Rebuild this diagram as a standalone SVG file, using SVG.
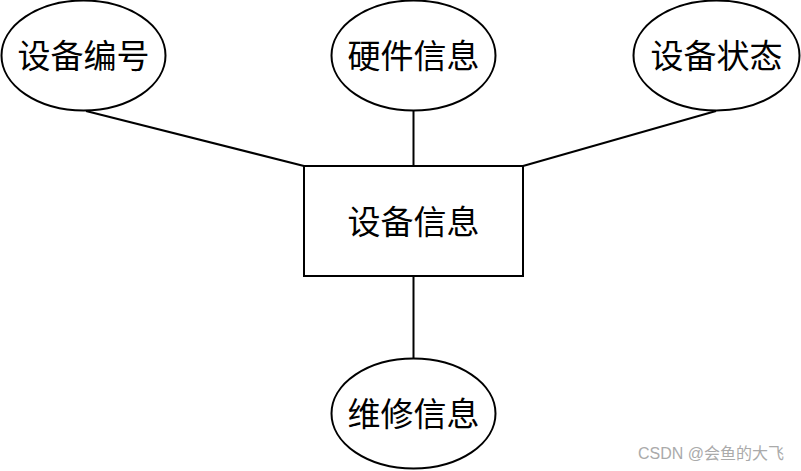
<svg xmlns="http://www.w3.org/2000/svg" width="801" height="471" viewBox="0 0 801 471">
<style>
.shape{fill:#fff;stroke:#000;stroke-width:2}
.lbl{font-family:"Noto Sans CJK SC","Noto Sans",sans-serif;font-size:33px;fill:#000;text-anchor:middle;dominant-baseline:central}
.edge{stroke:#000;stroke-width:2;fill:none}
</style>
<rect width="801" height="471" fill="#fff"/>
<g id="connectors">
<line class="edge" x1="86" y1="111" x2="304" y2="166"/>
<line class="edge" x1="413.5" y1="111" x2="413.5" y2="166"/>
<line class="edge" x1="716" y1="111" x2="523" y2="166"/>
<line class="edge" x1="413.5" y1="276" x2="413.5" y2="358"/>
</g>
<g id="node-bianhao">
<ellipse class="shape" cx="83.5" cy="55.5" rx="82" ry="55"/>
<text class="lbl" x="83.5" y="54">设备编号</text>
</g>
<g id="node-yingjian">
<ellipse class="shape" cx="413.5" cy="55.5" rx="82" ry="55"/>
<text class="lbl" x="413.5" y="54">硬件信息</text>
</g>
<g id="node-zhuangtai">
<ellipse class="shape" cx="716.5" cy="55.5" rx="83" ry="55"/>
<text class="lbl" x="716.5" y="54">设备状态</text>
</g>
<g id="node-shebei">
<rect class="shape" x="304" y="166" width="219" height="110"/>
<text class="lbl" x="413.5" y="220">设备信息</text>
</g>
<g id="node-weixiu">
<ellipse class="shape" cx="413.5" cy="413.5" rx="82" ry="55"/>
<text class="lbl" x="413.5" y="412">维修信息</text>
</g>
<text x="784" y="459" font-family="'Liberation Sans','Noto Sans CJK SC',sans-serif" font-size="16" fill="#aaa" text-anchor="end">CSDN @会鱼的大飞</text>
</svg>
